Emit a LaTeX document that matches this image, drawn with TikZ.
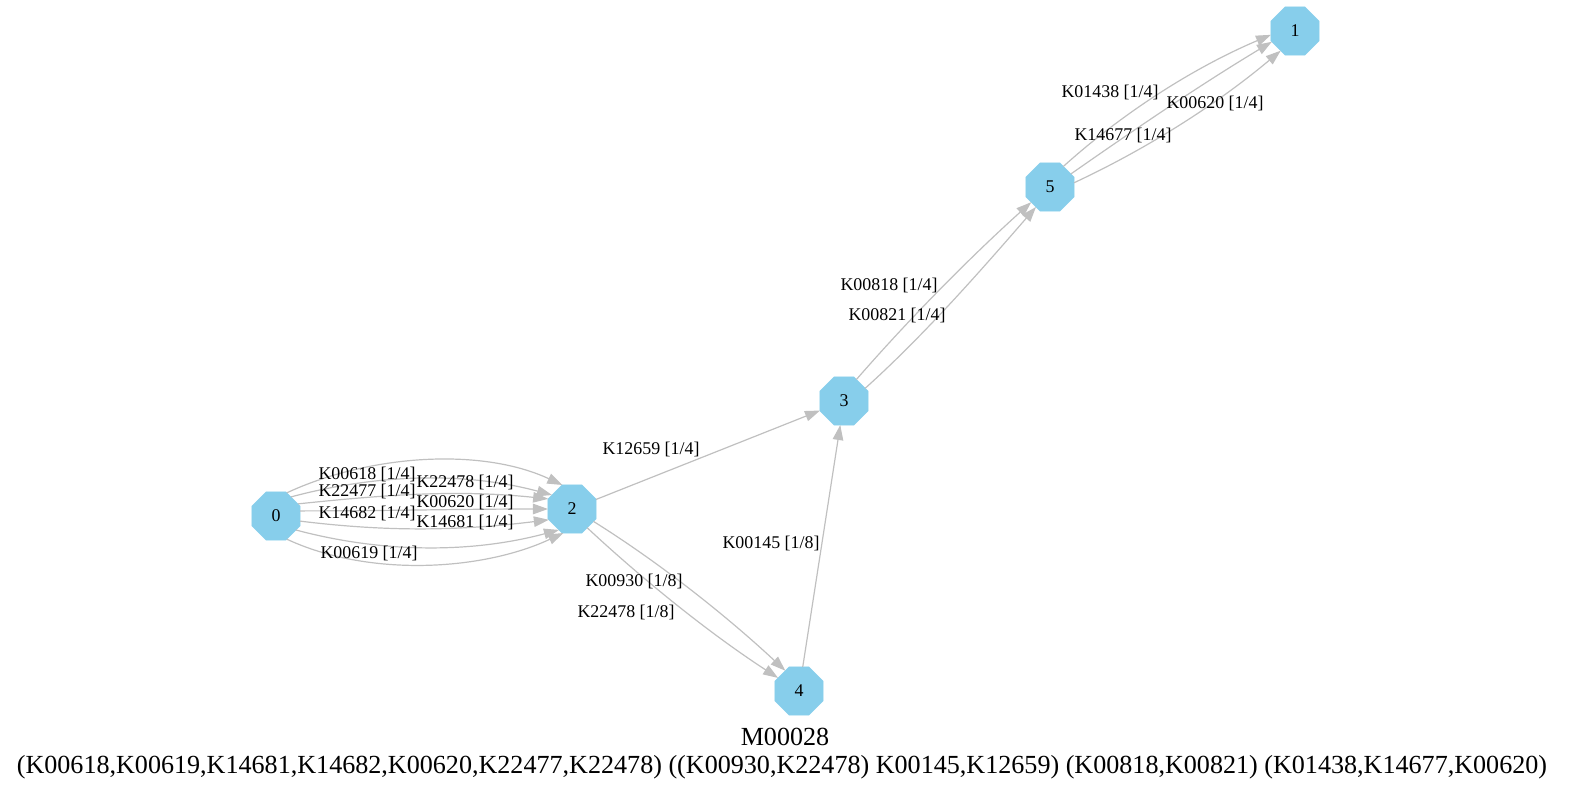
\documentclass[tikz,border=0pt]{standalone}
\usepackage{fontspec}
\setmainfont{Liberation Serif}
\usetikzlibrary{arrows.meta,shapes.geometric}
\definecolor{nodeblue}{HTML}{87CEEB}
\definecolor{edgegray}{HTML}{C0C0C0}
\begin{document}
\begin{tikzpicture}[x=1pt,y=-1pt,
  state/.style={regular polygon, regular polygon sides=8, fill=nodeblue,
    draw=nodeblue, line width=0.5pt, minimum size=52pt, inner sep=0pt,
    outer sep=0pt, font=\fontsize{17.9}{20}\selectfont},
  edge/.style={draw=edgegray, line width=1.2pt,
    -{Triangle[length=15pt,width=10.5pt]}},
  elabel/.style={font=\fontsize{17.9}{20}\selectfont, inner sep=0pt},
  title/.style={font=\fontsize{26.1}{30}\selectfont, inner sep=0pt}]
\useasboundingbox (0,0) rectangle (1571,793);

% states
\node[state] (n0) at (276,516) {0};
\node[state] (n2) at (572,509) {2};
\node[state] (n3) at (844,401) {3};
\node[state] (n4) at (799,691) {4};
\node[state] (n5) at (1050,187) {5};
\node[state] (n1) at (1295,31)  {1};

% 0 -> 2
\draw[edge] (n0.65)  .. controls +(25:90pt)  and +(155:90pt) .. (n2.112);
\draw[edge] (n0.52)  .. controls +(15:90pt)  and +(165:90pt) .. (n2.145);
\draw[edge] (n0.29)  .. controls +(6:90pt)   and +(174:90pt) .. (n2.157);
\draw[edge] (n0.12)  .. controls +(0:90pt)   and +(180:90pt) .. (n2.180);
\draw[edge] (n0.-12) .. controls +(-7:90pt)  and +(187:90pt) .. (n2.205);
\draw[edge] (n0.-35) .. controls +(-15:90pt) and +(195:90pt) .. (n2.238);
\draw[edge] (n0.-65) .. controls +(-25:90pt) and +(205:90pt) .. (n2.250);

% 2 -> 3, 4 -> 3
\draw[edge] (n2) -- (n3);
\draw[edge] (n4) -- (n3);

% 2 -> 4
\draw[edge] (n2.-30) .. controls +(-32:79pt) and +(137:79pt) .. (n4.124);
\draw[edge] (n2.-51) .. controls +(-43:79pt) and +(147:79pt) .. (n4.148);

% 3 -> 5
\draw[edge] (n3.60) .. controls +(49:81pt) and +(222:81pt) .. (n5.219);
\draw[edge] (n3.31) .. controls +(42:81pt) and +(229:81pt) .. (n5.235);

% 5 -> 1
\draw[edge] (n5.57) .. controls +(42:82pt) and +(203:82pt) .. (n1.189);
\draw[edge] (n5.32) .. controls +(35:80pt) and +(211:80pt) .. (n1.205);
\draw[edge] (n5.10) .. controls +(25:82pt) and +(220:82pt) .. (n1.234);

% edge labels
\node[elabel] (l1)  at (367,474) {K00618 [1/4]};
\node[elabel] (l2)  at (367,491) {K22477 [1/4]};
\node[elabel] (l3)  at (367,513) {K14682 [1/4]};
\node[elabel] (l4)  at (369,553) {K00619 [1/4]};
\node[elabel] (l5)  at (465,482) {K22478 [1/4]};
\node[elabel] (l6)  at (465,502) {K00620 [1/4]};
\node[elabel] (l7)  at (465,522) {K14681 [1/4]};
\node[elabel] (l8)  at (651,449) {K12659 [1/4]};
\node[elabel] (l9)  at (771,543) {K00145 [1/8]};
\node[elabel] (l10) at (634,581) {K00930 [1/8]};
\node[elabel] (l11) at (626,612) {K22478 [1/8]};
\node[elabel] (l12) at (889,285) {K00818 [1/4]};
\node[elabel] (l13) at (897,315) {K00821 [1/4]};
\node[elabel] (l14) at (1110,92) {K01438 [1/4]};
\node[elabel] (l15) at (1215,103) {K00620 [1/4]};
\node[elabel] (l16) at (1123,135) {K14677 [1/4]};

% caption
\node[title] (t1) at (785,737) {M00028};
\node[title] (t2) at (782,767) {(K00618,K00619,K14681,K14682,K00620,K22477,K22478) ((K00930,K22478) K00145,K12659) (K00818,K00821) (K01438,K14677,K00620)};
\end{tikzpicture}
\end{document}
